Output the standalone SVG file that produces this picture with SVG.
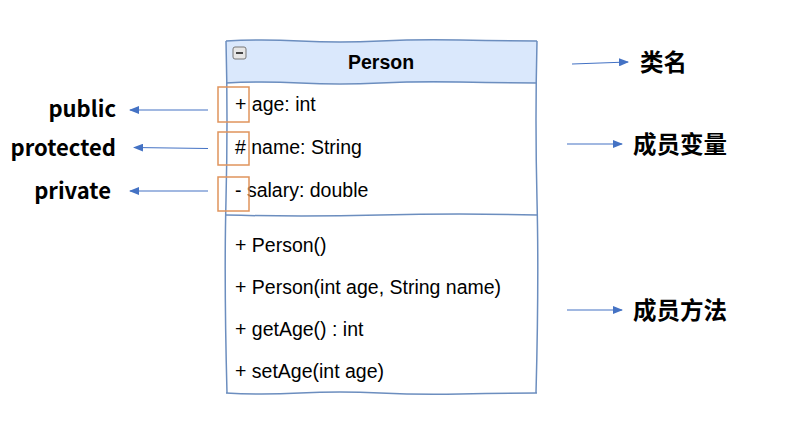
<svg xmlns="http://www.w3.org/2000/svg" width="807" height="424" viewBox="0 0 807 424">
<defs>
<marker id="ah" markerWidth="10" markerHeight="8" refX="9" refY="4" orient="auto" markerUnits="userSpaceOnUse">
<path d="M0,0 L10,4 L0,8 Z" fill="#4472c4"/>
</marker>
<style>
.mem{font-family:"Liberation Sans",Arial,sans-serif;font-size:19.5px;fill:#000}
.lbl{font-family:"Noto Sans CJK SC","Noto Sans",sans-serif;font-size:22px;font-weight:bold;fill:#000}
.zh{font-size:23.5px}
.arr{stroke:#4472c4;stroke-width:1.2;fill:none;marker-end:url(#ah)}
.vis{fill:none;stroke:#e0945c;stroke-width:1.5}
.edge{stroke:#6c8ebf;stroke-width:1.5;fill:none}
</style>
</defs>
<rect width="807" height="424" fill="#fff"/>
<g id="person-class">
<path d="M226,41 Q260,39 300,41 T380,41 T460,40 T537,41 L537,83 L226,83 Z" fill="#dae8fc"/>
<path class="edge" d="M226,41 Q260,39 300,41 T380,41 T460,40 T537,41"/>
<path class="edge" d="M226,41 Q228,120 226,200 T227,393"/>
<path class="edge" d="M537,41 Q535,120 537,200 T536,393"/>
<path class="edge" d="M226,393 Q260,395 300,393 T380,393 T460,394 T537,393"/>
<path class="edge" d="M226,83 Q260,81 300,83 T380,83 T460,82 T537,83"/>
<path class="edge" d="M226,215 Q300,217 380,215 T537,215"/>
<rect x="233" y="47" width="13" height="12" rx="2" fill="#e6e6e6" stroke="#777" stroke-width="1"/>
<line x1="236" y1="53" x2="243" y2="53" stroke="#333" stroke-width="1.8"/>
<text x="381" y="69" text-anchor="middle" class="mem" font-weight="bold">Person</text>
<text x="235" y="111" class="mem">+ age: int</text>
<text x="235" y="154" class="mem"># name: String</text>
<text x="235" y="197" class="mem">- salary: double</text>
<text x="235" y="252" class="mem">+ Person()</text>
<text x="235" y="294" class="mem">+ Person(int age, String name)</text>
<text x="235" y="336" class="mem">+ getAge() : int</text>
<text x="235" y="378" class="mem">+ setAge(int age)</text>
<rect class="vis" x="218" y="87" width="31" height="35"/>
<rect class="vis" x="218" y="132" width="31" height="33"/>
<rect class="vis" x="218" y="177" width="31" height="34"/>
</g>
<g id="labels">
<text x="116" y="117" text-anchor="end" class="lbl">public</text>
<text x="116" y="156" text-anchor="end" class="lbl">protected</text>
<text x="111" y="199" text-anchor="end" class="lbl">private</text>
<text x="640" y="71" class="lbl zh">类名</text>
<text x="633" y="153" class="lbl zh">成员变量</text>
<text x="633" y="319" class="lbl zh">成员方法</text>
</g>
<g id="connectors">
<line class="arr" x1="208" y1="110" x2="130" y2="110"/>
<line class="arr" x1="208" y1="148.5" x2="134" y2="147.5"/>
<line class="arr" x1="208" y1="191" x2="130" y2="191"/>
<line class="arr" x1="572" y1="64" x2="628" y2="62"/>
<line class="arr" x1="567" y1="144" x2="622" y2="144"/>
<line class="arr" x1="567" y1="310" x2="622" y2="310"/>
</g>
</svg>
